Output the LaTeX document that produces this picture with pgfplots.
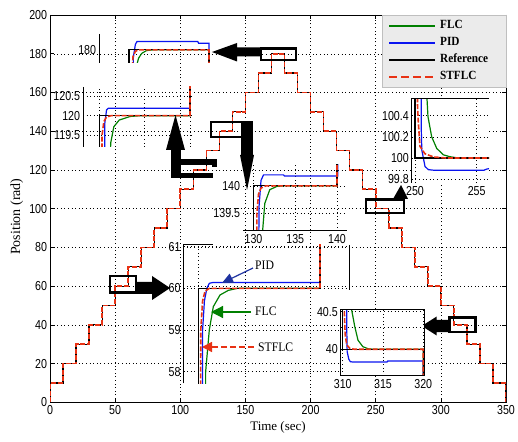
\documentclass[border=0pt]{standalone}
\usepackage{pgfplots}
\pgfplotsset{compat=1.18}
\usepackage{pgfplotstable}
\usepackage{fontspec}
\setmainfont{Liberation Serif}
\newfontfamily\tickfont{Liberation Sans}
\usetikzlibrary{arrows.meta}

\definecolor{cgreen}{RGB}{0,128,0}
\definecolor{cblue}{RGB}{10,20,240}
\definecolor{cred}{RGB}{232,50,20}
\definecolor{carrowblue}{RGB}{30,50,160}

\pgfplotstableread{
t v
0 0
0 10
10 20
20 30
30 40
40 50
50 60
60 70
70 80
80 90
90 100
100 110
110 120
120 130
130 140
140 150
150 160
160 170
170 180
180 170
190 160
200 150
210 140
220 130
230 120
240 110
250 100
260 90
270 80
280 70
290 60
300 50
310 40
320 30
330 20
340 10
350 0
}\stairs

\pgfplotsset{
  gridst/.style={black, line width=0.45pt, dash pattern=on 0.8pt off 2.8pt},
  ticklab/.style={tick label style={font=\tickfont\fontsize{13}{13}\selectfont, xscale=0.82},
                  /pgf/number format/assume math mode=true},
  inset/.style={scale only axis, anchor=south west, axis line style={draw=none},
                tick style={draw=none}, major tick length=0pt, grid=major,
                grid style={gridst}, ticklab},
  flc/.style={cgreen, line width=1.2pt},
  pid/.style={cblue, line width=1.2pt},
  refl/.style={black, line width=1.2pt},
  stf/.style={cred, line width=1.6pt, dash pattern=on 5pt off 1.8pt},
}

\newcommand\annfont{\fontsize{13}{13}\selectfont}

\begin{document}
\begin{tikzpicture}
\path[use as bounding box] (-50pt,-38.7pt) rectangle (468pt,402.3pt);

\begin{axis}[at={(0pt,0pt)}, anchor=south west, scale only axis,
  width=456pt, height=387.3pt,
  xmin=0, xmax=350, ymin=0, ymax=200,
  xtick={0,50,...,350}, ytick={0,20,...,200},
  grid=major, grid style={gridst},
  major tick length=4pt, tick style={black, line width=0.6pt},
  axis line style={line width=0.8pt},
  ticklab,
  xlabel={Time (sec)}, ylabel={Position (rad)},
  xlabel style={font=\fontsize{13}{13}\selectfont, yshift=0pt},
  ylabel style={font=\fontsize{14}{14}\selectfont, xshift=-8pt},
  legend image code/.code={\draw[#1, line width=2.2pt] (0pt,0pt) -- (46pt,0pt);},
  legend cell align=left,
  legend style={at={(1,1)}, anchor=north east, fill=black!8, draw=black!25,
    inner xsep=6pt, inner ysep=2pt, row sep=0pt, column sep=3pt,
    nodes={inner xsep=1pt, inner ysep=1.5pt, text height=10pt, text depth=4pt,
           font=\bfseries\fontsize{12.5}{12.5}\selectfont, xscale=0.9}},
]
\addplot[flc, const plot] table[x=t,y=v] {\stairs};
\addplot[pid, const plot] table[x=t,y=v] {\stairs};
\addplot[refl, const plot] table[x=t,y=v] {\stairs};
\addplot[stf, const plot, legend image post style={dash pattern=on 8pt off 4pt}] table[x=t,y=v] {\stairs};
\legend{FLC,PID,Reference\hspace*{12pt},STFLC}
\end{axis}

% annotation boxes and arrows (pixel frame)
\begin{scope}[shift={(-50pt,402.3pt)}, x=1pt, y=-1pt]
  \draw[line width=2.8pt] (110,276) rectangle (136,292.7);
  \fill (136,282) -- (152,282) -- (152,276) -- (170,288) -- (152,300) -- (152,294) -- (136,294) -- cycle;
  \draw[line width=2.8pt] (211,122) rectangle (246,137);
  \fill (241,120.6) rectangle (253,157);
  \fill (240,155) -- (254,155) -- (247,190) -- cycle;
  \fill (171,148) rectangle (180.5,178);
  \fill (166,150) -- (185,150) -- (175.5,115) -- cycle;
  \fill (178,159.5) rectangle (217,165);
  \fill (212,159.5) rectangle (217,167);
  \fill (178,173) rectangle (213,178);
  \draw[line width=2.8pt] (261,48.5) rectangle (296,60);
  \fill (261,47.5) -- (237,47.5) -- (237,43) -- (212,52) -- (237,61.5) -- (237,56.5) -- (261,56.5) -- cycle;
  \draw[line width=2.8pt] (366,199.5) rectangle (404,213);
  \fill (393,199) -- (408,199) -- (401,185) -- cycle;
  \draw[line width=2.8pt] (449.5,317.5) rectangle (475.5,332);
  \fill (449.5,320) -- (436.7,320) -- (436.7,316.5) -- (421.7,326) -- (436.7,335.5) -- (436.7,332) -- (449.5,332) -- cycle;
\end{scope}

% Inset A : 180
\begin{axis}[inset, at={(49pt,339.3pt)}, width=112pt, height=29pt,
  xmin=166.25, xmax=180.25, ymin=179.81, ymax=180.23,
  xtick=\empty, ytick={180}, grid=none]
\addplot[flc] coordinates {(170.7,170) (170.9,179.75) (171.2,179.88) (171.6,179.95) (172.2,179.99) (173,180) (180,180) (180,170)};
\addplot[pid] coordinates {(170.4,170) (170.55,179.9) (170.8,180.08) (171.0,180.12) (178.6,180.12) (178.7,180.097) (180,180.097) (180,170)};
\addplot[refl] coordinates {(170,170) (170,180) (180,180) (180,170)};
\addplot[stf] coordinates {(170.2,170) (170.35,179.6) (170.5,179.9) (170.8,179.98) (171.2,180) (180,180) (180,170)};
\end{axis}

% Inset B : 120
\begin{axis}[inset, at={(33pt,255.3pt)}, width=109pt, height=60pt,
  xmin=108.2, xmax=120.22, ymin=119.204, ymax=120.73,
  xtick={110,115,120}, xticklabels={}, ytick={119.5,120,120.5}]
\addplot[flc] coordinates {(111.1,110) (111.25,119.3) (111.6,119.72) (112.2,119.89) (113.4,119.98) (114.5,120) (120,120) (120.1,130)};
\addplot[pid] coordinates {(110.4,110) (110.6,119.8) (110.8,120.15) (111,120.19) (120,120.19) (120,130)};
\addplot[refl] coordinates {(110,110) (110,120) (120,120) (120,130)};
\addplot[stf] coordinates {(110.15,110) (110.3,119.5) (110.5,119.85) (110.8,119.97) (111.3,120) (120,120) (120,130)};
\end{axis}

% Inset D : 60
\begin{axis}[inset, at={(133.5pt,19pt)}, width=165.5pt, height=138.3pt,
  xmin=48.78, xmax=62.38, ymin=57.72, ymax=61.04,
  xtick={50}, xticklabels={}, ytick={58,59,60,61}]
\addplot[flc] coordinates {(50.5,50) (50.6,58.0) (50.9,59.0) (51.23,59.56) (51.78,59.84) (52.46,59.95) (53.2,60) (60,60) (60.05,70)};
\addplot[pid] coordinates {(50.25,50) (50.35,59.0) (50.5,59.7) (50.7,60.0) (50.9,60.12) (51.2,60.14) (60,60.14) (60,70)};
\addplot[refl] coordinates {(50,50) (50,60) (60,60) (60,70)};
\addplot[stf] coordinates {(50.1,50) (50.2,59.0) (50.35,59.7) (50.55,59.93) (50.9,60) (60,60) (60,70)};
\end{axis}

% Inset C : 140
\begin{axis}[inset, at={(193pt,171.3pt)}, width=104pt, height=66pt,
  xmin=128.74, xmax=141.2, ymin=139.177, ymax=140.38,
  xtick={130,135,140}, ytick={139.5,140}]
\addplot[flc] coordinates {(130.95,130) (131.1,139.2) (131.35,139.68) (131.95,139.93) (132.8,139.99) (133.5,140) (140,140) (140.05,150)};
\addplot[pid] coordinates {(130.5,130) (130.65,139.6) (130.9,140.1) (131.2,140.2) (133.6,140.2) (133.7,140.18) (140.1,140.18) (140.1,150)};
\addplot[refl] coordinates {(130,130) (130,140) (140,140) (140,150)};
\addplot[stf] coordinates {(130.2,130) (130.4,139.5) (130.6,139.85) (130.9,139.96) (131.5,140) (140,140) (140,150)};
\end{axis}

% Inset E : 100
\begin{axis}[inset, at={(361.7pt,219.6pt)}, width=77.3pt, height=84.4pt,
  xmin=249.73, xmax=256.0, ymin=99.767, ymax=100.563,
  axis background/.style={fill=white},
  xtick={250,255}, ytick={99.8,100,100.2,100.4}]
\addplot[flc] coordinates {(250.95,110) (250.97,100.56) (251.05,100.39) (251.35,100.2) (251.76,100.09) (252.3,100.03) (252.83,100.012) (253.5,100) (256,100)};
\addplot[pid] coordinates {(250.45,110) (250.5,100.3) (250.55,100.075) (250.81,99.92) (251.08,99.89) (251.5,99.885) (255.6,99.885) (255.8,99.895) (256,99.9)};
\addplot[refl] coordinates {(250,110) (250,100) (256,100)};
\addplot[stf] coordinates {(250.1,110) (250.2,100.5) (250.27,100.33) (250.4,100.11) (250.8,100.04) (251.5,100.01) (252.5,100) (256,100)};
\end{axis}

% Inset F : 40
\begin{axis}[inset, at={(290.7pt,26.6pt)}, width=83.3pt, height=66.4pt,
  xmin=309.75, xmax=320.09, ymin=39.649, ymax=40.532,
  axis background/.style={fill=white},
  xtick={310,315,320}, ytick={40,40.5},
  extra y ticks={40.3}, extra y tick labels={}]
\addplot[flc] coordinates {(311.05,50) (311.1,40.53) (311.5,40.3) (311.9,40.12) (312.5,40.035) (313.2,40.005) (314,40) (320,40) (320,30)};
\addplot[pid] coordinates {(310.45,50) (310.5,40.3) (310.55,39.97) (310.75,39.87) (310.95,39.835) (311.3,39.83) (315.5,39.83) (315.6,39.845) (320,39.845) (320,30)};
\addplot[refl] coordinates {(310,50) (310,40) (320,40) (320,30)};
\addplot[stf] coordinates {(310.1,50) (310.2,40.5) (310.3,40.2) (310.5,40.06) (310.9,40.01) (311.5,40) (320,40) (320,30)};
\end{axis}

% inset frames and inset-D annotations (pixel frame)
\begin{scope}[shift={(-50pt,402.3pt)}, x=1pt, y=-1pt]
  \draw[line width=1pt] (99,34) -- (99,63);
  \draw[line width=1pt] (83,87) -- (83,147);
  \draw[line width=1pt] (243,231) -- (347,231);
  \draw[line width=1pt] (183.5,383.3) -- (183.5,245) -- (213,245);
  \draw[line width=1pt] (349,245) -- (349,290);
  \draw[line width=1pt] (411.7,182.7) -- (411.7,98.3) -- (489,98.3);
  \draw[line width=1pt] (340.7,309.3) rectangle (424,375.7);
  \draw[carrowblue, line width=1.2pt, -{Triangle[length=11pt,width=10pt]}] (253,268) -- (222,283);
  \node[anchor=west, font=\annfont, xscale=0.9, inner sep=0pt] at (255,265) {PID};
  \draw[cgreen, line width=1.2pt, -{Triangle[length=12pt,width=12pt]}] (251,312) -- (211,312);
  \node[anchor=west, font=\annfont, xscale=0.9, inner sep=0pt] at (255,311) {FLC};
  \draw[cred, line width=1.4pt, dash pattern=on 6pt off 3pt, -{Triangle[length=10pt,width=10pt]}] (254,347) -- (202,347);
  \node[anchor=west, font=\annfont, xscale=0.9, inner sep=0pt] at (258,347) {STFLC};
\end{scope}
\end{tikzpicture}
\end{document}
